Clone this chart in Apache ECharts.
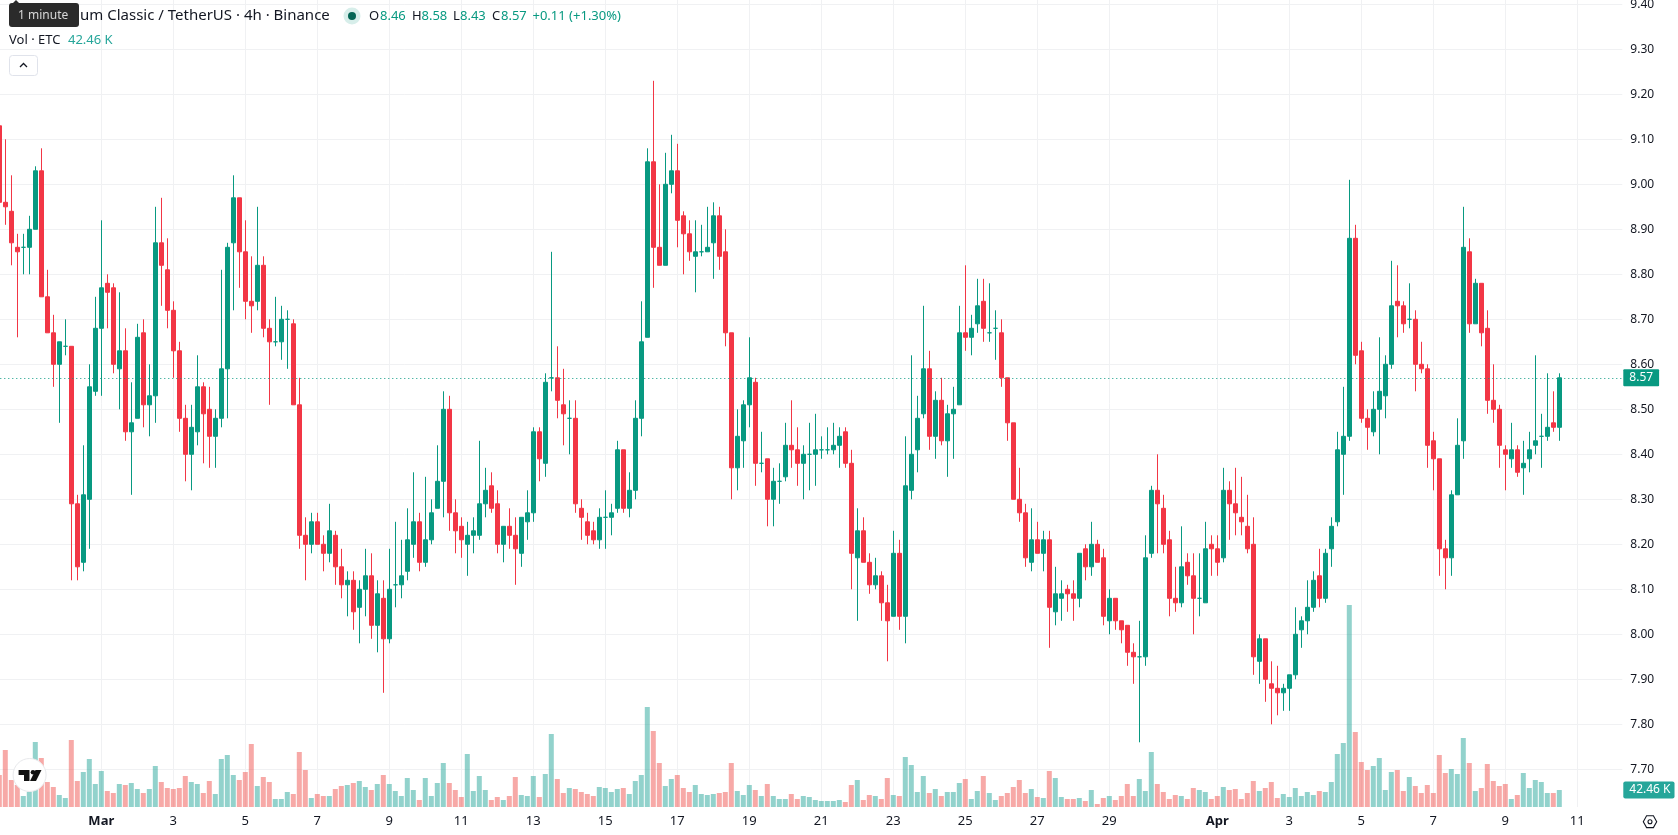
<!DOCTYPE html>
<html>
<head>
<meta charset="utf-8">
<title>ETC/USDT 4h</title>
<style>html,body{margin:0;padding:0;background:#fff;overflow:hidden}#chart{width:1678px;height:835px}</style>
<script src="https://cdn.jsdelivr.net/npm/echarts@6/dist/echarts.min.js"></script>
</head>
<body>
<div id="chart"></div>
<script>
// 4h candles, oldest first
const opens = [
9.13,8.96,8.94,8.86,8.86,8.86,8.90,9.03,8.75,8.67,
8.60,8.64,8.64,8.29,8.16,8.30,8.54,8.68,8.78,8.77,
8.59,8.63,8.45,8.48,8.67,8.51,8.53,8.87,8.81,8.72,
8.63,8.48,8.40,8.45,8.55,8.50,8.44,8.48,8.59,8.87,
8.97,8.85,8.74,8.74,8.82,8.68,8.65,8.65,8.70,8.69,
8.51,8.22,8.20,8.25,8.20,8.18,8.22,8.15,8.11,8.12,
8.06,8.10,8.13,8.02,8.08,7.99,8.11,8.11,8.14,8.20,
8.25,8.16,8.21,8.28,8.34,8.50,8.27,8.24,8.20,8.22,
8.22,8.29,8.33,8.29,8.20,8.24,8.22,8.18,8.25,8.27,
8.45,8.38,8.57,8.57,8.51,8.48,8.48,8.28,8.25,8.23,
8.21,8.26,8.26,8.28,8.41,8.28,8.32,8.48,8.66,9.05,
8.86,8.82,9.00,9.03,8.93,8.89,8.84,8.85,8.85,8.87,
8.93,8.85,8.67,8.37,8.43,8.51,8.56,8.38,8.39,8.30,
8.34,8.35,8.42,8.41,8.38,8.40,8.40,8.41,8.41,8.41,
8.42,8.45,8.38,8.17,8.23,8.16,8.11,8.13,8.07,8.04,
8.18,8.04,8.32,8.41,8.49,8.59,8.44,8.52,8.43,8.49,
8.51,8.67,8.66,8.69,8.74,8.67,8.68,8.67,8.57,8.47,
8.30,8.27,8.16,8.21,8.18,8.21,8.05,8.08,8.10,8.09,
8.08,8.19,8.15,8.20,8.17,8.03,8.08,8.03,8.02,7.96,
7.95,7.95,8.18,8.32,8.28,8.21,8.08,8.07,8.16,8.13,
8.08,8.07,8.20,8.19,8.17,8.32,8.29,8.26,8.24,8.20,
7.94,7.99,7.89,7.88,7.87,7.88,7.91,8.01,8.03,8.06,
8.13,8.08,8.19,8.25,8.40,8.44,8.88,8.63,8.48,8.45,
8.50,8.53,8.60,8.74,8.73,8.70,8.70,8.60,8.59,8.43,
8.39,8.19,8.17,8.31,8.43,8.85,8.69,8.78,8.68,8.52,
8.50,8.41,8.39,8.41,8.37,8.39,8.42,8.44,8.44,8.47,8.46];
const closes = [
8.96,8.95,8.87,8.85,8.86,8.90,9.03,8.75,8.67,8.60,
8.65,8.64,8.29,8.15,8.31,8.55,8.68,8.77,8.76,8.60,
8.63,8.45,8.47,8.66,8.51,8.53,8.87,8.82,8.72,8.63,
8.48,8.40,8.46,8.55,8.49,8.44,8.48,8.59,8.86,8.97,
8.85,8.74,8.73,8.82,8.68,8.65,8.65,8.70,8.70,8.51,
8.22,8.20,8.25,8.20,8.18,8.23,8.15,8.11,8.12,8.05,
8.10,8.13,8.02,8.09,7.99,8.10,8.11,8.13,8.21,8.25,
8.16,8.21,8.27,8.34,8.50,8.27,8.23,8.21,8.22,8.23,
8.29,8.32,8.28,8.20,8.24,8.22,8.19,8.26,8.27,8.45,
8.39,8.56,8.57,8.52,8.49,8.48,8.29,8.26,8.22,8.21,
8.26,8.26,8.27,8.41,8.28,8.32,8.48,8.65,9.05,8.86,
8.82,9.00,9.03,8.92,8.89,8.85,8.85,8.85,8.86,8.93,
8.84,8.67,8.37,8.44,8.51,8.57,8.38,8.38,8.30,8.34,
8.34,8.42,8.41,8.38,8.40,8.40,8.41,8.41,8.41,8.42,
8.44,8.38,8.18,8.23,8.16,8.11,8.13,8.07,8.03,8.18,
8.04,8.33,8.40,8.48,8.59,8.44,8.52,8.43,8.49,8.50,
8.67,8.66,8.68,8.73,8.68,8.67,8.68,8.57,8.47,8.30,
8.27,8.17,8.21,8.18,8.21,8.06,8.09,8.09,8.09,8.08,
8.18,8.15,8.20,8.16,8.04,8.08,8.03,8.01,7.96,7.95,
7.95,8.17,8.32,8.29,8.20,8.08,8.07,8.15,8.13,8.08,
8.08,8.19,8.19,8.16,8.32,8.29,8.27,8.25,8.19,7.95,
7.99,7.90,7.88,7.87,7.88,7.91,8.00,8.03,8.06,8.12,
8.08,8.18,8.24,8.41,8.44,8.88,8.62,8.48,8.46,8.50,
8.54,8.60,8.73,8.73,8.69,8.70,8.60,8.59,8.42,8.39,
8.19,8.17,8.31,8.42,8.86,8.69,8.78,8.67,8.52,8.50,
8.42,8.40,8.41,8.36,8.38,8.41,8.43,8.44,8.46,8.46,8.57];
const highs = [
9.13,9.10,9.02,8.89,8.89,8.93,9.04,9.08,8.81,8.71,
8.65,8.70,8.64,8.31,8.42,8.60,8.75,8.92,8.80,8.78,
8.76,8.68,8.56,8.69,8.70,8.60,8.95,8.97,8.88,8.74,
8.65,8.51,8.51,8.62,8.56,8.55,8.50,8.81,8.87,9.02,
8.97,8.92,8.84,8.95,8.84,8.70,8.75,8.73,8.72,8.70,
8.57,8.26,8.27,8.27,8.22,8.29,8.23,8.19,8.14,8.14,
8.12,8.19,8.18,8.12,8.12,8.19,8.25,8.21,8.28,8.36,
8.27,8.35,8.30,8.42,8.54,8.53,8.30,8.26,8.25,8.26,
8.43,8.37,8.36,8.32,8.24,8.28,8.26,8.26,8.32,8.46,
8.46,8.58,8.85,8.64,8.59,8.52,8.52,8.30,8.27,8.25,
8.28,8.32,8.29,8.43,8.41,8.36,8.52,8.74,9.08,9.23,
9.00,9.07,9.11,9.09,8.94,8.92,8.92,8.91,8.95,8.96,
8.95,8.90,8.67,8.50,8.52,8.66,8.57,8.45,8.39,8.37,
8.38,8.47,8.52,8.46,8.42,8.47,8.49,8.44,8.46,8.47,
8.46,8.46,8.41,8.28,8.26,8.18,8.17,8.14,8.11,8.23,
8.21,8.44,8.62,8.53,8.73,8.63,8.54,8.57,8.51,8.55,
8.73,8.82,8.71,8.79,8.79,8.78,8.72,8.70,8.57,8.47,
8.37,8.29,8.28,8.25,8.23,8.23,8.15,8.12,8.11,8.12,
8.18,8.20,8.25,8.21,8.19,8.10,8.08,8.03,8.02,7.98,
8.03,8.22,8.33,8.40,8.31,8.23,8.15,8.24,8.18,8.18,
8.18,8.25,8.22,8.22,8.37,8.34,8.37,8.35,8.31,8.26,
8.00,7.99,7.94,7.93,7.89,7.91,8.06,8.04,8.12,8.14,
8.19,8.19,8.26,8.45,8.55,9.01,8.91,8.65,8.50,8.54,
8.66,8.62,8.83,8.82,8.74,8.78,8.72,8.65,8.60,8.45,
8.39,8.21,8.32,8.48,8.95,8.88,8.79,8.78,8.72,8.60,
8.51,8.42,8.47,8.42,8.43,8.45,8.62,8.49,8.58,8.54,8.58];
const lows = [
8.95,8.91,8.82,8.66,8.80,8.80,8.90,8.75,8.67,8.55,
8.47,8.62,8.12,8.12,8.14,8.19,8.53,8.53,8.68,8.58,
8.50,8.43,8.31,8.48,8.46,8.44,8.47,8.73,8.68,8.57,
8.45,8.34,8.32,8.42,8.38,8.37,8.37,8.46,8.48,8.72,
8.77,8.70,8.67,8.72,8.66,8.51,8.64,8.61,8.59,8.51,
8.19,8.12,8.18,8.20,8.14,8.16,8.11,8.08,8.04,8.01,
7.98,8.04,7.99,7.96,7.87,7.98,8.06,8.08,8.12,8.17,
8.14,8.15,8.20,8.28,8.26,8.23,8.18,8.17,8.13,8.18,
8.21,8.26,8.27,8.18,8.16,8.19,8.11,8.15,8.21,8.25,
8.34,8.35,8.54,8.48,8.42,8.40,8.27,8.21,8.20,8.20,
8.19,8.19,8.22,8.27,8.27,8.26,8.30,8.44,8.66,8.77,
8.82,8.82,8.98,8.86,8.80,8.83,8.76,8.84,8.85,8.79,
8.81,8.64,8.30,8.32,8.37,8.46,8.33,8.36,8.24,8.24,
8.29,8.34,8.37,8.33,8.30,8.32,8.33,8.39,8.40,8.40,
8.37,8.37,8.10,8.03,8.16,8.09,8.10,8.03,7.94,8.04,
8.01,7.98,8.30,8.36,8.48,8.41,8.39,8.42,8.35,8.39,
8.51,8.63,8.62,8.67,8.65,8.65,8.61,8.55,8.43,8.30,
8.25,8.15,8.14,8.18,8.14,7.97,8.02,8.03,8.05,8.03,
8.06,8.12,8.13,8.16,8.02,8.00,8.01,7.98,7.93,7.89,
7.76,7.93,8.17,8.18,8.18,8.04,8.05,8.06,8.11,8.00,
8.04,8.07,8.13,8.13,8.16,8.21,8.22,8.22,8.18,7.91,
7.89,7.85,7.80,7.82,7.83,7.83,7.90,7.97,8.00,8.05,
8.06,8.07,8.15,8.24,8.31,8.43,8.60,8.47,8.41,8.44,
8.40,8.48,8.59,8.66,8.67,8.68,8.54,8.58,8.37,8.32,
8.13,8.10,8.13,8.31,8.39,8.67,8.69,8.64,8.49,8.47,
8.37,8.32,8.37,8.35,8.31,8.36,8.40,8.37,8.43,8.45,8.43];
// traded volume per candle, thousands of ETC
const volumes = [
80,142.5,67.5,55,27.5,38,162.5,122.5,62.5,50,
30,22.5,167.5,65,87.5,120,57.5,90,40,35,
57.5,55,60,45,35,45,102.5,62.5,47.5,45,
47.5,77.5,62.5,57.5,35,65,32.5,120,130,80,
67.5,87.5,157.5,52.5,75,62.5,20,20,37.5,32.5,
137.5,92.5,22.5,32.5,27.5,27.5,45,52.5,55,60,
65,50,42.5,57.5,80,57.5,40,27.5,72.5,42.5,
17.5,72.5,27.5,60,110,60,42.5,25,132.5,40,
77.5,42.5,17.5,25,17.5,27.5,75,30,27.5,77.5,
25,82.5,182.5,70,35,47.5,45,37.5,32.5,27.5,
50,47.5,37.5,45,47.5,32.5,65,80,250,190,
110,52.5,70,80,47.5,37.5,55,32.5,30,32.5,
35,37.5,110,40,30,55,42.5,27.5,57.5,27.5,
20,20,32.5,20,27.5,25,17.5,15,15,15,
17.5,12.5,55,67.5,17.5,30,27.5,20,72.5,30,
27.5,125,105,37.5,77.5,35,45,27.5,37.5,37.5,
60,70,20,40,77.5,35,17.5,27.5,35,50,
67.5,35,45,25,22.5,90,72.5,25,20,20,
22.5,15,42.5,7.5,22.5,27.5,17.5,27.5,57.5,27.5,
70,40,137.5,57.5,37.5,20,30,27.5,20,47.5,
42.5,37.5,20,27.5,50,42.5,45,20,35,65,
40,47.5,62.5,22.5,32.5,25,47.5,27.5,37.5,30,
40,37.5,62.5,132.5,160,505,187.5,112.5,92.5,102.5,
122.5,42.5,87.5,92.5,40,75,52.5,35,55,35,
130,85,95,82.5,172.5,110,40,47.5,107.5,65,
52.5,57.5,20,30,85,47.5,67.5,62.5,35,35,42.46];
// time axis labels and the candle index each one sits on
const tickLabels = ['Mar','3','5','7','9','11','13','15','17','19','21','23','25','27','29','Apr','3','5','7','9','11'];
const tickIndexes = [17,29,41,53,65,77,89,101,113,125,137,149,161,173,185,203,215,227,239,251,263];
const slotCount = 271;   // candles plus empty room on the right of the last one
const lastPrice = 8.57;
const lastVolume = 42.46;
const titleText = 'um Classic / TetherUS \u00b7 4h \u00b7 Binance';
const ohlcValues = ['8.46','8.58','8.43','8.57'];
const changeText = '+0.11 (+1.30%)';

const UP = '#089981', DOWN = '#f23645', INK = '#131722', GRID = '#f0f1f3';
const FONT = '"Noto Sans", sans-serif';
const slots = Array.from({length: slotCount}, (_, i) => String(i));
const tickSet = new Map(tickIndexes.map((t, k) => [t, tickLabels[k]]));
const isTick = i => tickSet.has(i);

const candleData = opens.map((o, i) => [o, closes[i], lows[i], highs[i]]);

const txt = (x, y, text, fill, size) => ({
  type: 'text', z: 100, x, y,
  style: {text, fill, font: `${size || 13}px ${FONT}`, verticalAlign: 'middle'}
});

const chart = echarts.init(document.getElementById('chart'), null, {renderer: 'canvas'});
chart.setOption({
  animation: false,
  backgroundColor: '#ffffff',
  grid: [
    {left: -3.7, width: 1626, top: 4.3, height: 810, outerBoundsMode: 'none'},
    {left: -3.7, width: 1626, top: 0, height: 807, outerBoundsMode: 'none'}
  ],
  xAxis: [
    {type: 'category', gridIndex: 0, data: slots, show: false},
    {
      type: 'category', gridIndex: 1, data: slots,
      axisLine: {show: false}, axisTick: {show: false},
      splitLine: {show: true, alignWithLabel: true, interval: i => isTick(+i), lineStyle: {color: GRID, width: 1}},
      axisLabel: {
        interval: i => isTick(+i),
        margin: 8, color: INK, fontSize: 13, fontFamily: FONT,
        formatter: (v) => {
          const s = tickSet.get(+v) || '';
          return /[A-Za-z]/.test(s) ? `{month|${s}}` : s;
        },
        rich: {month: {fontWeight: 'bold', color: INK, fontSize: 13, fontFamily: FONT}}
      }
    }
  ],
  yAxis: [
    {
      type: 'value', gridIndex: 0, position: 'right', min: 7.6, max: 9.4, interval: 0.1,
      axisLine: {show: false}, axisTick: {show: false},
      splitLine: {show: true, showMinLine: false, lineStyle: {color: GRID, width: 1}},
      axisLabel: {
        margin: 8, color: INK, fontSize: 12, fontFamily: FONT,
        formatter: v => v < 7.65 ? '' : v.toFixed(2)
      }
    },
    {type: 'value', gridIndex: 1, min: 0, max: 2017.5, show: false, splitLine: {show: false}}
  ],
  series: [
    {
      type: 'bar', name: 'Vol', xAxisIndex: 1, yAxisIndex: 1, data: volumes, barWidth: 5, silent: true,
      itemStyle: {color: p => closes[p.dataIndex] >= opens[p.dataIndex] ? 'rgba(38,166,154,0.5)' : 'rgba(239,83,80,0.5)'},
      markLine: {
        silent: true, symbol: 'none', animation: false,
        lineStyle: {color: 'transparent', width: 0},
        label: {
          show: true, position: 'end', distance: 1, formatter: lastVolume.toFixed(2) + ' K',
          backgroundColor: '#26a69a', color: '#fff', fontSize: 12, fontFamily: FONT,
          padding: [3, 4, 2, 6], borderRadius: 2
        },
        data: [{yAxis: lastVolume}]
      }
    },
    {
      type: 'candlestick', name: 'ETC/USDT', xAxisIndex: 0, yAxisIndex: 0, data: candleData, barWidth: 4, silent: true,
      itemStyle: {color: UP, color0: DOWN, borderColor: UP, borderColor0: DOWN, borderColorDoji: UP, borderWidth: 1},
      markLine: {
        silent: true, symbol: 'none', animation: false,
        lineStyle: {color: UP, type: [1, 3], width: 1},
        label: {
          show: true, position: 'end', distance: 1, formatter: lastPrice.toFixed(2),
          backgroundColor: UP, color: '#fff', fontSize: 12, fontFamily: FONT,
          padding: [3, 6, 2, 6], borderRadius: 1
        },
        data: [{yAxis: lastPrice}]
      }
    }
  ],
  graphic: {elements: [
    // header line
    txt(80, 16, titleText, INK, 15),
    {type: 'circle', z: 100, shape: {cx: 352, cy: 16, r: 8.5}, style: {fill: '#d7eeea'}},
    {type: 'circle', z: 101, shape: {cx: 352, cy: 16, r: 4}, style: {fill: '#056656'}},
    txt(369, 16, 'O', INK, 13), txt(380, 16, ohlcValues[0], UP, 13),
    txt(412, 16, 'H', INK, 13), txt(421.5, 16, ohlcValues[1], UP, 13),
    txt(453, 16, 'L', INK, 13), txt(460, 16, ohlcValues[2], UP, 13),
    txt(492, 16, 'C', INK, 13), txt(501, 16, ohlcValues[3], UP, 13),
    txt(532.5, 16, changeText, UP, 13),
    txt(9, 40.5, 'Vol \u00b7 ETC', INK, 13),
    txt(68, 40.5, lastVolume.toFixed(2) + ' K', '#26a69a', 13),
    // tooltip over the start of the title
    {type: 'polygon', z: 110, shape: {points: [[12, 4], [16, 0], [20, 4]]}, style: {fill: '#2b2b2b'}},
    {type: 'rect', z: 110, shape: {x: 9, y: 3, width: 70, height: 24, r: 3}, style: {fill: '#2b2b2b'}},
    {type: 'text', z: 111, x: 18, y: 15.5, style: {text: '1 minute', fill: '#d8d8d8', font: `12px ${FONT}`, verticalAlign: 'middle'}},
    // collapse button
    {type: 'rect', z: 100, shape: {x: 9.5, y: 55.5, width: 28, height: 20, r: 3}, style: {fill: '#fff', stroke: '#e0e3eb', lineWidth: 1}},
    {type: 'polyline', z: 101, shape: {points: [[20, 67], [23.5, 63.5], [27, 67]]}, style: {stroke: INK, lineWidth: 1.3, fill: null}},
    // platform badge
    {type: 'circle', z: 100, shape: {cx: 29.6, cy: 775, r: 16.5}, style: {fill: '#fff', stroke: '#e8e9ec', lineWidth: 1}},
    {type: 'polygon', z: 101, shape: {points: [[18.6, 770], [29.5, 770], [29.5, 781], [24, 781], [24, 775], [18.6, 775]]}, style: {fill: '#111'}},
    {type: 'circle', z: 101, shape: {cx: 33, cy: 772.2, r: 2.3}, style: {fill: '#111'}},
    {type: 'polygon', z: 101, shape: {points: [[35.5, 770], [41.5, 770], [36, 781], [30, 781]]}, style: {fill: '#111'}},
    // settings glyph in the axis corner
    {type: 'polygon', z: 100, shape: {points: [[1643.3, 821.7], [1646.6, 815.8], [1653.4, 815.8], [1656.7, 821.7], [1653.4, 827.6], [1646.6, 827.6]]}, style: {fill: 'none', stroke: INK, lineWidth: 1.1}},
    {type: 'circle', z: 100, shape: {cx: 1650, cy: 821.7, r: 2}, style: {fill: 'none', stroke: INK, lineWidth: 1.1}}
  ]}
});
</script>
</body>
</html>
